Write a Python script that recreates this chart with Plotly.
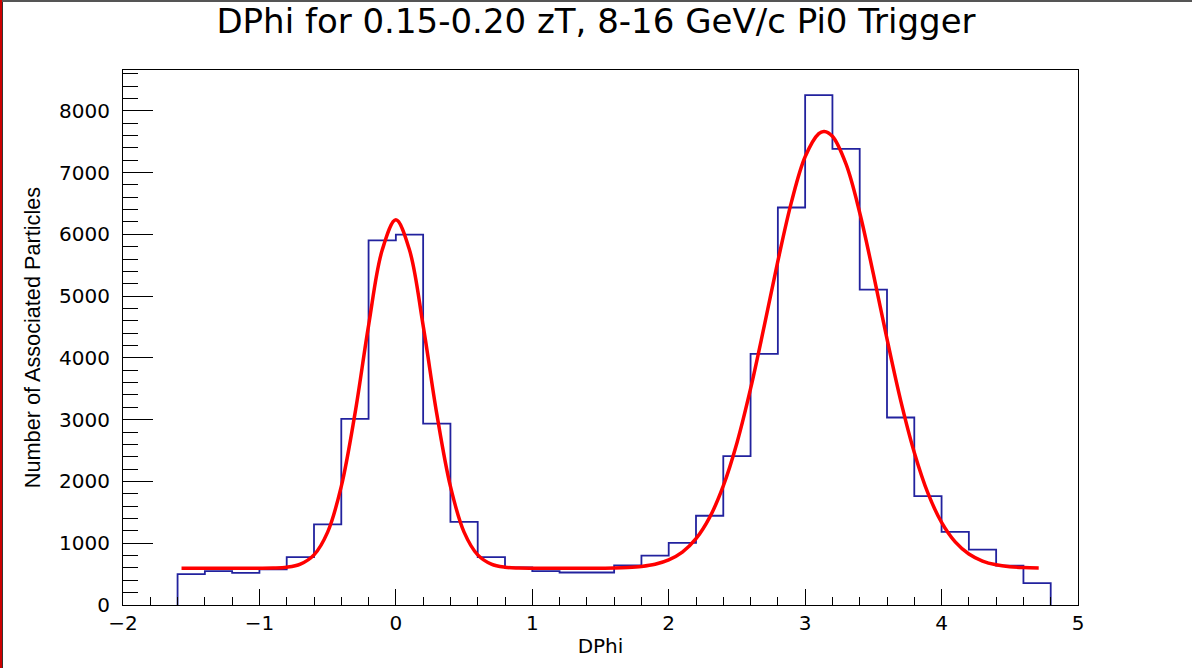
import plotly.graph_objects as go

# ---------------- data ----------------
bin_low = -1.6
bin_width = 0.2
counts = [500, 549, 520, 578, 775, 1306, 3012, 5902, 5994, 2936, 1347, 775,
          607, 549, 526, 526, 642, 798, 1006, 1445, 2410, 4064, 6434, 8254,
          7382, 5104, 3035, 1763, 1185, 896, 636, 353]

fit_x = [-1.571, -1.2, -1.0, -0.9, -0.8, -0.7, -0.6, -0.5, -0.4, -0.3, -0.2, -0.1,
         0.0, 0.1, 0.2, 0.3, 0.4, 0.5, 0.6, 0.7, 0.8, 0.9, 1.0, 1.2, 1.4, 1.6,
         1.7, 1.8, 1.9, 2.0, 2.1, 2.2, 2.3, 2.4, 2.5, 2.6, 2.7, 2.8, 2.9, 3.0,
         3.1, 3.14, 3.2, 3.3, 3.4, 3.5, 3.6, 3.7, 3.8, 3.9, 4.0, 4.1, 4.2, 4.3,
         4.4, 4.5, 4.6, 4.712]
fit_y = [595, 595, 596, 599, 612, 662, 812, 1180, 1920, 3093, 4522, 5745,
         6235, 5745, 4522, 3093, 1920, 1180, 812, 662, 612, 599, 596, 595, 596, 600,
         608, 625, 660, 730, 856, 1073, 1418, 1927, 2623, 3501, 4513, 5565, 6526, 7255,
         7630, 7665, 7587, 7135, 6350, 5358, 4306, 3312, 2469, 1810, 1337, 1021, 825, 712,
         651, 620, 606, 600]

title_text = "DPhi for 0.15-0.20 zT, 8-16 GeV/c Pi0 Trigger"
x_title = "DPhi"
y_title = "Number of Associated Particles"

# ---------------- build step outline ----------------
n = len(counts)
edges = [round(bin_low + i * bin_width, 6) for i in range(n + 1)]
step_x = [edges[0]] + edges[:-1] + [edges[-1], edges[-1]]
step_y = [0] + counts + [counts[-1], 0]

WIDE = "DejaVu Sans, Verdana, sans-serif"
NARROW = "Liberation Sans, Arial, Helvetica, sans-serif"

fig = go.Figure()
fig.add_trace(go.Scatter(x=step_x, y=step_y, mode="lines", line_shape="hv",
                         line=dict(color="#22229e", width=1.8),
                         hoverinfo="skip", showlegend=False))
fig.add_trace(go.Scatter(x=fit_x, y=fit_y, mode="lines", line_shape="spline",
                         line=dict(color="#ff0000", width=3.5),
                         showlegend=False))

fig.update_layout(
    width=1192, height=668,
    margin=dict(l=123, r=114, t=70, b=63),
    paper_bgcolor="white", plot_bgcolor="white",
    font=dict(family=WIDE, color="black", size=18),
    title=dict(text=title_text, x=0.5, xanchor="center", y=0.968, yanchor="middle",
               font=dict(family=WIDE, size=34, color="black")),
    shapes=[
        dict(type="line", xref="paper", yref="paper", x0=-122/955, x1=-122/955,
             y0=-63/535, y1=1 + 70/535, line=dict(color="#cc0000", width=3)),
        dict(type="line", xref="paper", yref="paper", x0=-120.5/955, x1=-120.5/955,
             y0=-63/535, y1=1 + 70/535, line=dict(color="#333333", width=1)),
        dict(type="line", xref="paper", yref="paper", x0=-121/955, x1=1 + 114/955,
             y0=1 + 69/535, y1=1 + 69/535, line=dict(color="#555555", width=2)),
    ],
)

fig.update_xaxes(
    range=[-2, 5], dtick=1, tick0=0,
    showgrid=False, zeroline=False,
    showline=True, linecolor="black", linewidth=1.2, mirror=True,
    ticks="inside", ticklen=16, tickwidth=1.2, tickcolor="black",
    minor=dict(dtick=0.2, ticks="inside", ticklen=8, tickwidth=1, tickcolor="black", showgrid=False),
    tickfont=dict(family=WIDE, size=20),
    title=dict(text=x_title, font=dict(family=WIDE, size=20), standoff=4),
)
fig.update_yaxes(
    range=[0, 8660], dtick=1000, tick0=0,
    showgrid=False, zeroline=False,
    showline=True, linecolor="black", linewidth=1.2, mirror=True,
    ticks="inside", ticklen=30, tickwidth=1.2, tickcolor="black",
    minor=dict(dtick=200, ticks="inside", ticklen=15, tickwidth=1, tickcolor="black", showgrid=False),
    tickfont=dict(family=WIDE, size=20),
    ticklabelstandoff=8,
    title=dict(text=y_title, font=dict(family=NARROW, size=21.7), standoff=12),
)

fig.write_html("out.html")
